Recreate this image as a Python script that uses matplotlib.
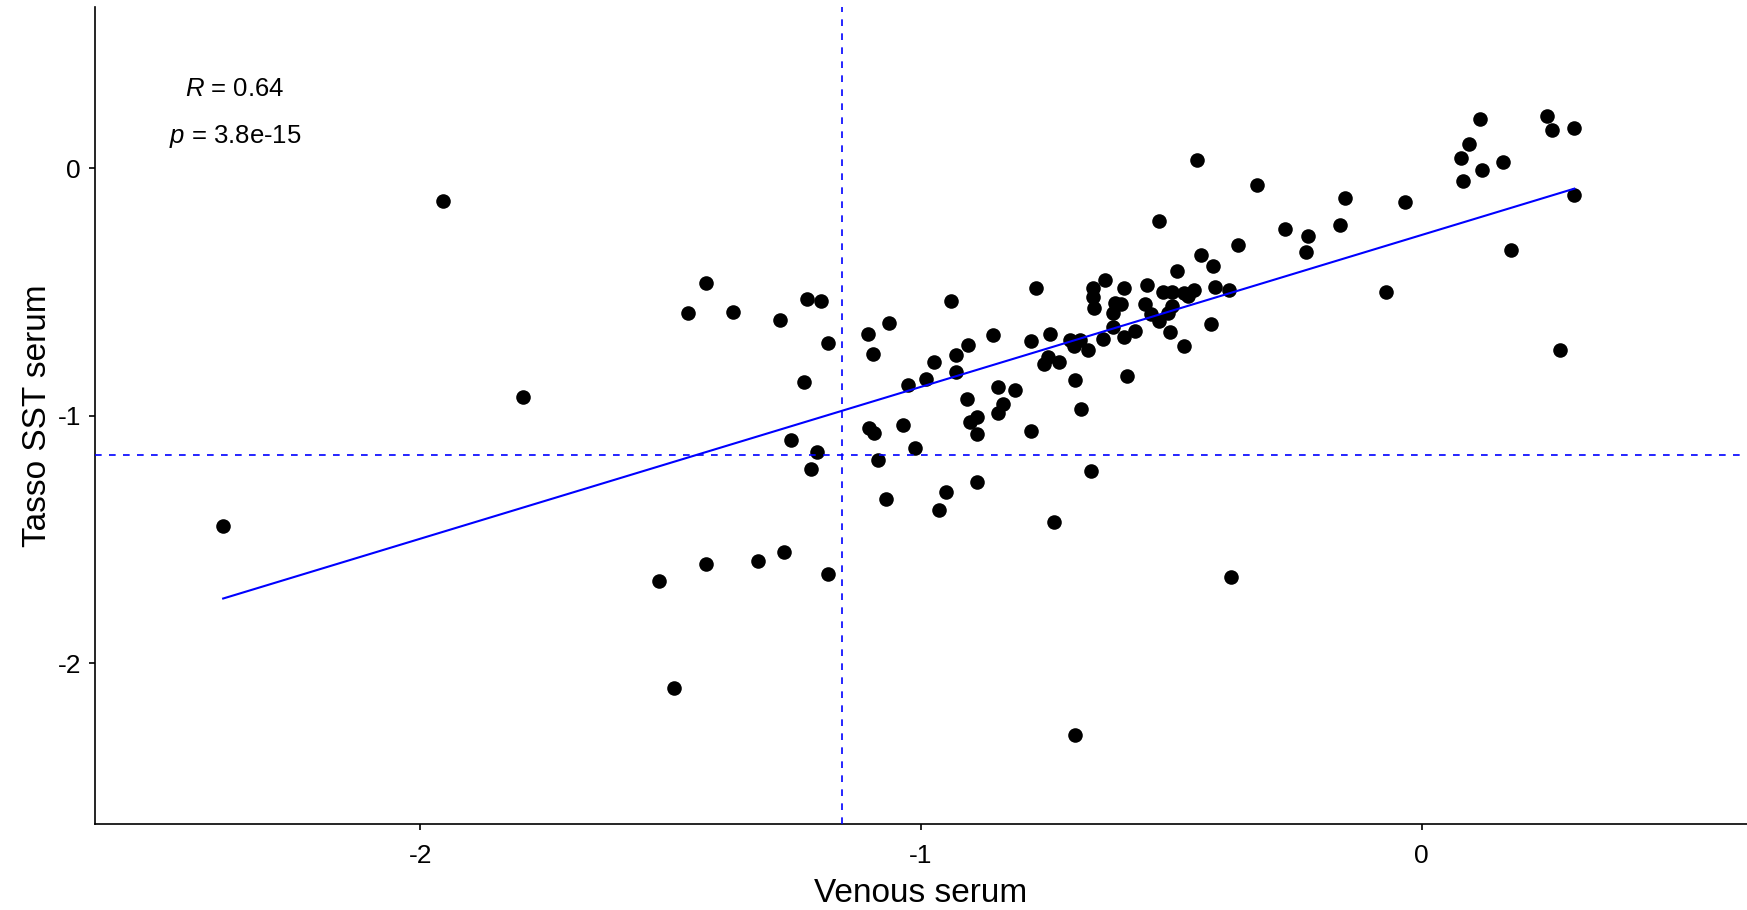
import numpy as np
import matplotlib
matplotlib.use("Agg")
import matplotlib.pyplot as plt

plt.rcParams["font.family"] = ["Liberation Sans", "DejaVu Sans"]
plt.rcParams["mathtext.fontset"] = "custom"
plt.rcParams["mathtext.rm"] = "Liberation Sans"
plt.rcParams["mathtext.it"] = "Liberation Sans:italic"

# values (log scale, both axes)
venous = [
    -2.394, -1.955, -1.795, -1.524, -1.494,
    -1.430, -1.466, -1.375, -1.281, -1.228, -1.200, -1.186, -1.234, -1.260, -1.208, -1.220,
    -1.105, -1.064, -1.096, -0.941, -0.770, -0.742, -0.780, -0.857, -0.906, -0.931, -0.975, -0.931, -0.990, -1.025,
    -0.746, -0.755, -0.725, -0.846, -0.812, -0.909, -0.836, -0.846, -0.889, -0.903, -0.889, -0.780,
    -1.104, -1.094, -1.036, -1.011, -1.085, -0.889, -0.951, -1.070, -0.965, -0.735,
    -1.430, -1.326, -1.274, -1.186,
    -0.524, -0.272, -0.227, -0.164, -0.230, -0.367, -0.440, -0.416, -0.489, -0.632,
    -0.657, -0.657, -0.654, -0.594, -0.549, -0.517, -0.499, -0.474, -0.454, -0.466,
    -0.412, -0.384, 0.179, -0.072, -0.612, -0.600, -0.616, -0.552, -0.540, -0.524,
    -0.507, -0.499, -0.420, -0.616, -0.573, -0.594, -0.503, -0.475, -0.636,
    -0.703, -0.682, -0.695, -0.667, -0.692, -0.588, -0.681, -0.660,
    -0.328, -0.153, -0.034, 0.116, 0.095, 0.078, 0.120, 0.082, 0.162, 0.250, 0.260, 0.305, 0.305, 0.277,
    -0.448, -0.380, -0.692,
]
tasso = [
    -1.445, -0.132, -0.925, -1.669, -2.098,
    -0.465, -0.586, -0.579, -0.614, -0.528, -0.535, -0.706, -0.862, -1.096, -1.145, -1.216,
    -0.671, -0.627, -0.749, -0.535, -0.485, -0.669, -0.698, -0.672, -0.714, -0.756, -0.784, -0.825, -0.853, -0.874,
    -0.761, -0.792, -0.783, -0.882, -0.897, -0.933, -0.951, -0.989, -1.003, -1.025, -1.075, -1.061,
    -1.051, -1.068, -1.038, -1.131, -1.180, -1.266, -1.309, -1.337, -1.381, -1.429,
    -1.600, -1.585, -1.550, -1.640,
    -0.215, -0.244, -0.272, -0.230, -0.337, -0.309, -0.351, -0.393, -0.415, -0.450,
    -0.485, -0.521, -0.566, -0.485, -0.472, -0.500, -0.500, -0.506, -0.493, -0.516,
    -0.478, -0.492, -0.330, -0.500, -0.545, -0.548, -0.586, -0.548, -0.590, -0.617,
    -0.583, -0.556, -0.628, -0.640, -0.656, -0.680, -0.663, -0.719, -0.690,
    -0.694, -0.694, -0.718, -0.735, -0.854, -0.840, -0.974, -1.224,
    -0.066, -0.122, -0.137, 0.197, 0.097, 0.040, -0.009, -0.053, 0.025, 0.211, 0.154, 0.162, -0.109, -0.734,
    0.032, -1.650, -2.288,
]
cutoff = -1.158   # dashed reference lines
stat_labels = ["$R$ = 0.64", "$p$ = 3.8e-15"]
ticks = [-2, -1, 0]

xv = np.array(venous)
yt = np.array(tasso)
# least squares line over the data range
slope, icpt = np.polyfit(xv, yt, 1)
xs = np.linspace(xv.min(), xv.max(), 80)
ys = icpt + slope * xs

fig = plt.figure(figsize=(17.47, 9.10), dpi=100)
ax = fig.add_axes([95 / 1747, 1 - 824.3 / 910, 1 - 95 / 1747, 817 / 910])

ax.scatter(xv, yt, s=110, color="black", linewidths=0, zorder=2)
ax.plot(xs, ys, color="#0000FF", lw=1.5, zorder=3)
ax.axvline(cutoff, color="#0000FF", lw=1.2, linestyle=(0, (4.0, 4.4)), zorder=3)
ax.axhline(cutoff, color="#0000FF", lw=1.2, linestyle=(0, (4.0, 4.4)), zorder=3)

ax.text(-2.37, 0.292, stat_labels[0], ha="center", va="baseline", fontsize=18.5)
ax.text(-2.37, 0.101, stat_labels[1], ha="center", va="baseline", fontsize=18.5)

ax.set_xlim(-2.65, 0.65)
ax.set_ylim(-2.65, 0.65)
ax.set_xticks(ticks)
ax.set_yticks(ticks)
ax.set_xticklabels([str(t) for t in ticks])
ax.set_yticklabels([str(t) for t in ticks])

for side in ["top", "right"]:
    ax.spines[side].set_visible(False)
for side in ["left", "bottom"]:
    ax.spines[side].set_linewidth(1.2)

ax.tick_params(axis="both", length=4, width=1.2, labelsize=19, colors="black")
ax.tick_params(axis="x", pad=10)
ax.tick_params(axis="y", pad=6)

ax.set_xlabel("Venous serum", fontsize=24)
ax.set_ylabel("Tasso SST serum", fontsize=24)
ax.xaxis.set_label_coords(0.5, -0.0847)
ax.xaxis.label.set_va("center")
ax.yaxis.set_label_coords(-0.0348, 0.5)
ax.yaxis.label.set_va("center")

fig.savefig("out.png", dpi=100)
